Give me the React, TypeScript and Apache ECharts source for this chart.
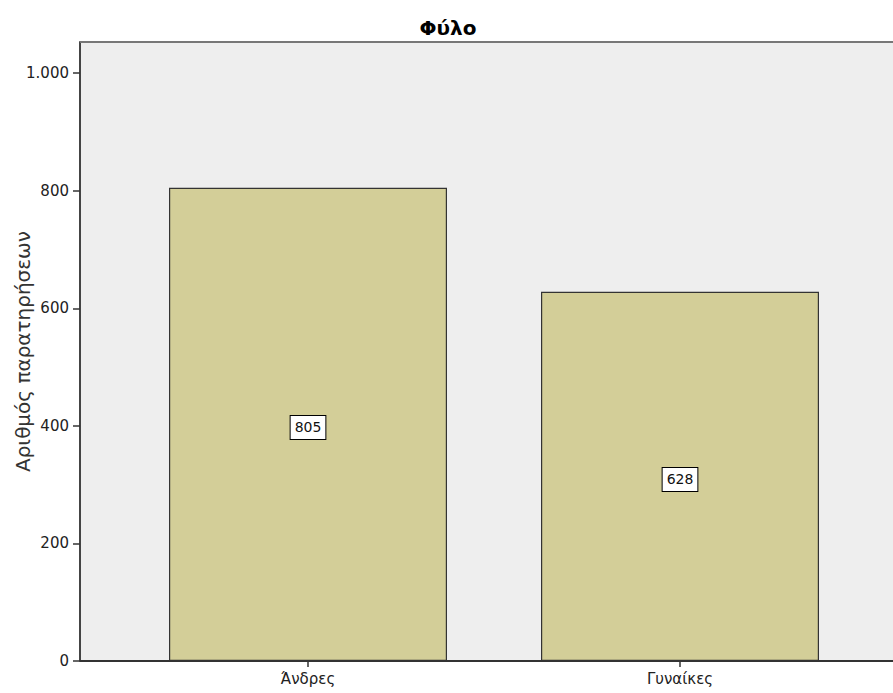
import React, { useEffect, useRef } from "react";
import * as echarts from "echarts";

const categories: string[] = ["Άνδρες", "Γυναίκες"];
const counts: number[] = [805, 628];
const titleText = "Φύλο";
const yAxisName = "Αριθμός παρατηρήσεων";

const FONT = "'DejaVu Sans', Verdana, sans-serif";

export default function App() {
  const ref = useRef<HTMLDivElement>(null);
  useEffect(() => {
    document.body.style.margin = "0";
    if (!ref.current) return;
    const chart = echarts.init(ref.current, null, { renderer: "svg" });
    const W = 893;
    const H = 693;
    const plotLeft = 80;
    const plotTop = 42;
    const plotBottom = 661;
    chart.setOption({
      animation: false,
      backgroundColor: "#ffffff",
      textStyle: { fontFamily: FONT },
      title: {
        text: titleText,
        left: 443,
        textAlign: "center",
        top: 13,
        textStyle: { fontFamily: FONT, fontSize: 20, fontWeight: "bold", color: "#000" },
      },
      graphic: [
        {
          type: "rect",
          z: -100,
          silent: true,
          shape: { x: plotLeft, y: plotTop, width: W - plotLeft + 20, height: plotBottom - plotTop },
          style: { fill: "#eeeeee" },
        },
        {
          type: "line",
          z: 100,
          silent: true,
          shape: { x1: plotLeft, y1: plotTop, x2: W + 5, y2: plotTop },
          style: { stroke: "#777777", lineWidth: 2 },
        },
        {
          type: "line",
          z: 100,
          silent: true,
          shape: { x1: plotLeft, y1: plotBottom, x2: W + 5, y2: plotBottom },
          style: { stroke: "#333333", lineWidth: 2 },
        },
      ],
      grid: {
        left: 122,
        width: 744,
        top: plotTop,
        bottom: H - plotBottom,
        containLabel: false,
        outerBoundsMode: "none",
      },
      xAxis: {
        type: "category",
        data: categories,
        axisLine: { show: false },
        axisTick: { show: true, alignWithLabel: true, length: 6, lineStyle: { color: "#333", width: 1.5 } },
        axisLabel: { fontSize: 15, color: "#222", margin: 10, fontFamily: FONT },
        splitLine: { show: false },
      },
      yAxis: {
        type: "value",
        min: 0,
        max: 1053,
        interval: 200,
        offset: 42,
        name: yAxisName,
        nameLocation: "middle",
        nameGap: 47,
        nameMoveOverlap: false,
        nameTextStyle: { fontSize: 20, color: "#333", fontFamily: FONT },
        axisLine: { show: true, lineStyle: { color: "#444", width: 2 } },
        axisTick: { show: true, length: 7, lineStyle: { color: "#333", width: 1.5 } },
        axisLabel: {
          fontSize: 15,
          color: "#222",
          margin: 11,
          fontFamily: FONT,
          formatter: (v: number) => (v >= 1000 ? v.toString().replace(/\B(?=(\d{3})+(?!\d))/g, ".") : String(v)),
          showMaxLabel: false,
        },
        splitLine: { show: false },
      },
      series: [
        {
          type: "bar",
          data: counts,
          barWidth: 278,
          itemStyle: { color: "#d3ce98", borderColor: "#333333", borderWidth: 1.2 },
          label: {
            show: true,
            position: "inside",
            color: "#111",
            fontSize: 14,
            fontFamily: FONT,
            backgroundColor: "#ffffff",
            borderColor: "#000",
            borderWidth: 1,
            padding: [5, 4, 4, 4],
            offset: [0, 3],
          },
        },
      ],
    });
    return () => chart.dispose();
  }, []);
  return <div ref={ref} style={{ width: 893, height: 693 }} />;
}
